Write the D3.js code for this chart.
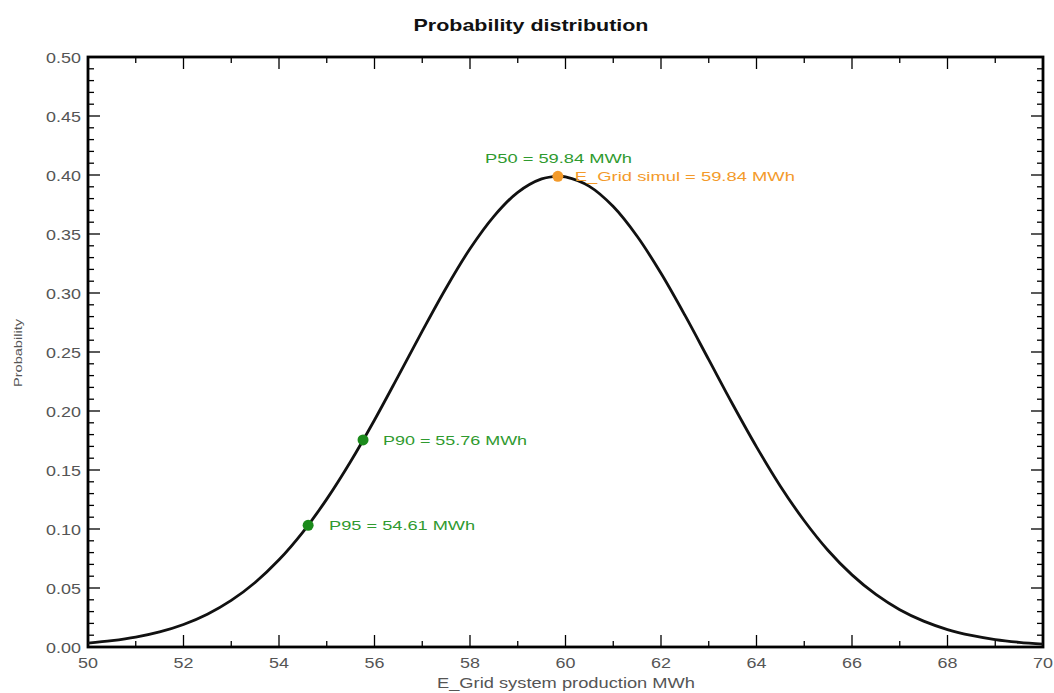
<!DOCTYPE html>
<html><head><meta charset="utf-8">
<script src="https://cdn.jsdelivr.net/npm/d3@7"></script>
<style>body{margin:0;background:#fff;}svg{display:block;font-family:"Liberation Sans",Arial,sans-serif;}</style>
</head><body><svg id="c" width="1054" height="693"></svg>
<script>
const xValues = [50,50.5,51,51.5,52,52.5,53,53.5,54,54.5,55,55.5,56,56.5,57,57.5,58,58.5,59,59.5,59.84,60,60.5,61,61.5,62,62.5,63,63.5,64,64.5,65,65.5,66,66.5,67,67.5,68,68.5,69,69.5,70];
const probValues = [0.0033,0.0054,0.0084,0.0128,0.0191,0.0278,0.0395,0.0547,0.0739,0.0974,0.1253,0.1572,0.1924,0.2298,0.2677,0.3043,0.3375,0.3650,0.3853,0.3967,0.3989,0.3984,0.3904,0.3733,0.3481,0.3167,0.2812,0.2435,0.2057,0.1696,0.1363,0.1070,0.0818,0.0611,0.0445,0.0316,0.0219,0.0148,0.0098,0.0063,0.0040,0.0024];
const markerNames = ["P50","P90","P95"];
const markerX = [59.84,55.76,54.61];
const markerY = [0.3989,0.1755,0.1031];
const simulX = 59.84, simulY = 0.3989;
const xTicks = [50,52,54,56,58,60,62,64,66,68,70];
const yTicks = [0,0.05,0.1,0.15,0.2,0.25,0.3,0.35,0.4,0.45,0.5];

const svg = d3.select("#c");
const L=88,R=1043,T=57,B=647;
const x = d3.scaleLinear().domain([50,70]).range([L,R]);
const y = d3.scaleLinear().domain([0,0.5]).range([B,T]);
const green="#2f9a2f", markGreen="#1b8a1b", orange="#f39a2a", gray="#555";

function stretch(sel, k){
  sel.each(function(){
    const w = this.getComputedTextLength();
    d3.select(this).attr("textLength", w*k).attr("lengthAdjust","spacingAndGlyphs");
  });
  return sel;
}

// ticks
const g = svg.append("g");
const minorX = d3.range(50,70.001,1), minorY = d3.range(0,0.5001,0.01);
minorX.forEach(v=>{
  const major = Math.round(v)%2===0;
  const len = major?12:6;
  g.append("line").attr("x1",x(v)).attr("x2",x(v)).attr("y1",B).attr("y2",B-len).attr("stroke","#000").attr("stroke-width",1.3);
  g.append("line").attr("x1",x(v)).attr("x2",x(v)).attr("y1",T).attr("y2",T+len).attr("stroke","#000").attr("stroke-width",1.3);
});
minorY.forEach((v,i)=>{
  const major = i%5===0;
  const len = major?12:6;
  g.append("line").attr("x1",L).attr("x2",L+len).attr("y1",y(v)).attr("y2",y(v)).attr("stroke","#000").attr("stroke-width",1.3);
  g.append("line").attr("x1",R).attr("x2",R-len).attr("y1",y(v)).attr("y2",y(v)).attr("stroke","#000").attr("stroke-width",1.3);
});
xTicks.forEach(v=>{
  stretch(g.append("text").attr("x",x(v)).attr("y",B+21).attr("text-anchor","middle").attr("font-size",14).attr("fill",gray).text(v),1.28);
});
yTicks.forEach(v=>{
  stretch(g.append("text").attr("x",L-7).attr("y",y(v)+5.5).attr("text-anchor","end").attr("font-size",14).attr("fill",gray).text(v.toFixed(2)),1.28);
});
svg.append("rect").attr("x",L).attr("y",T).attr("width",R-L).attr("height",B-T).attr("fill","none").attr("stroke","#000").attr("stroke-width",2.8);

// curve
const pts = xValues.map((v,i)=>[v,probValues[i]]);
svg.append("path").datum(pts).attr("fill","none").attr("stroke","#111").attr("stroke-width",2.8)
  .attr("d",d3.line().x(d=>x(d[0])).y(d=>y(d[1])).curve(d3.curveCatmullRom));

// markers
markerNames.forEach((n,i)=>{
  if(n!=="P50") svg.append("circle").attr("cx",x(markerX[i])).attr("cy",y(markerY[i])).attr("r",5.5).attr("fill",markGreen);
});
svg.append("circle").attr("cx",x(simulX)).attr("cy",y(simulY)).attr("r",5.5).attr("fill",orange);

// labels
const fmt = v=>v.toFixed(2);
svg.append("text").attr("x",485).attr("y",y(markerY[0])-13).attr("font-size",13.5).attr("fill",green)
  .attr("textLength",147).attr("lengthAdjust","spacingAndGlyphs").text(`${markerNames[0]} = ${fmt(markerX[0])} MWh`);
svg.append("text").attr("x",x(simulX)+17).attr("y",y(simulY)+5).attr("font-size",13.5).attr("fill",orange)
  .attr("textLength",220).attr("lengthAdjust","spacingAndGlyphs").text(`E_Grid simul = ${fmt(simulX)} MWh`);
svg.append("text").attr("x",x(markerX[1])+20).attr("y",y(markerY[1])+5).attr("font-size",13.5).attr("fill",green)
  .attr("textLength",144).attr("lengthAdjust","spacingAndGlyphs").text(`${markerNames[1]} = ${fmt(markerX[1])} MWh`);
svg.append("text").attr("x",x(markerX[2])+21).attr("y",y(markerY[2])+5).attr("font-size",13.5).attr("fill",green)
  .attr("textLength",146).attr("lengthAdjust","spacingAndGlyphs").text(`${markerNames[2]} = ${fmt(markerX[2])} MWh`);

// titles
svg.append("text").attr("x",531).attr("y",31).attr("text-anchor","middle").attr("font-size",17).attr("font-weight","bold").attr("fill","#111")
  .attr("textLength",235).attr("lengthAdjust","spacingAndGlyphs").text("Probability distribution");
svg.append("text").attr("x",566).attr("y",688).attr("text-anchor","middle").attr("font-size",14).attr("fill",gray)
  .attr("textLength",258).attr("lengthAdjust","spacingAndGlyphs").text("E_Grid system production MWh");
svg.append("text").attr("transform","translate(22,353) rotate(-90)").attr("text-anchor","middle").attr("font-size",11).attr("fill",gray)
  .attr("textLength",68).attr("lengthAdjust","spacingAndGlyphs").text("Probability");
</script></body></html>
